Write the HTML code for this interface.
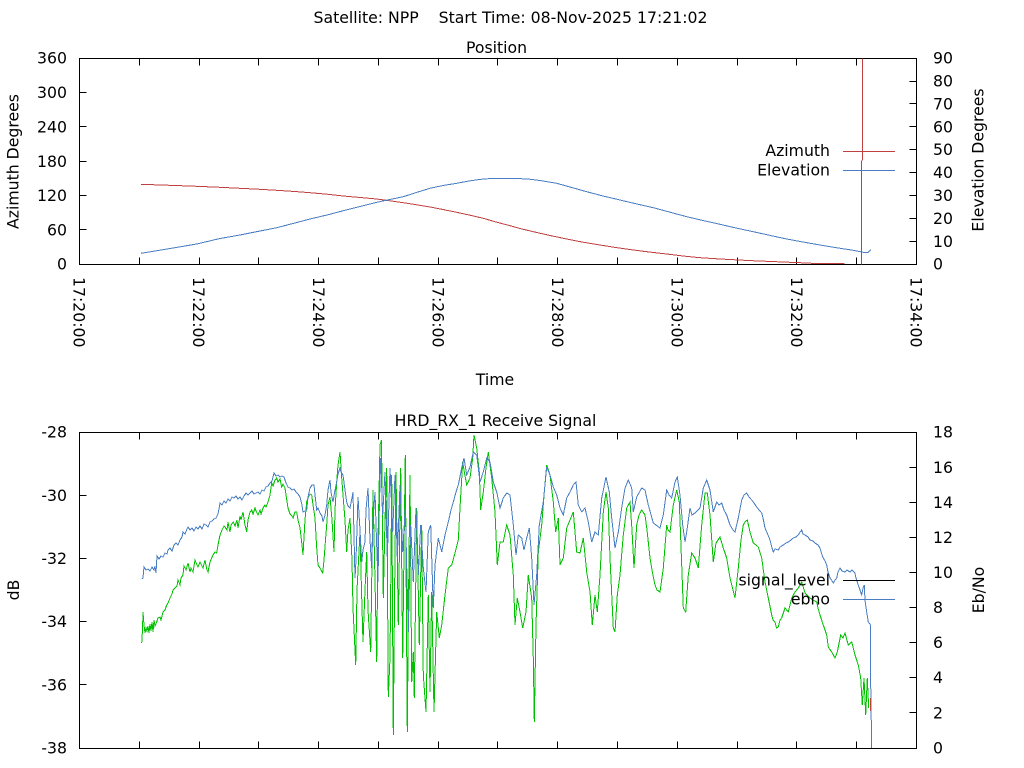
<!DOCTYPE html>
<html>
<head>
<meta charset="utf-8">
<style>
html,body{margin:0;padding:0;background:#fff;}
svg{display:block;}
text{font-family:"DejaVu Sans","Liberation Sans",sans-serif;font-size:15.7px;fill:#000;}
</style>
</head>
<body>
<svg width="1024" height="768" viewBox="0 0 1024 768" xmlns="http://www.w3.org/2000/svg">
<rect width="1024" height="768" fill="#fff"/>

<!-- Titles -->
<text x="510.5" y="23" text-anchor="middle" xml:space="preserve" style="white-space:pre">Satellite: NPP    Start Time: 08-Nov-2025 17:21:02</text>
<text x="496.5" y="53" text-anchor="middle">Position</text>
<text x="495.5" y="426" text-anchor="middle">HRD_RX_1 Receive Signal</text>
<text x="495" y="385" text-anchor="middle">Time</text>

<!-- Axis labels -->
<text transform="translate(18.5,161.5) rotate(-90)" text-anchor="middle">Azimuth Degrees</text>
<text transform="translate(983.5,160) rotate(-90)" text-anchor="middle">Elevation Degrees</text>
<text transform="translate(19,590) rotate(-90)" text-anchor="middle">dB</text>
<text transform="translate(984,590) rotate(-90)" text-anchor="middle">Eb/No</text>

<g shape-rendering="crispEdges" stroke="#000" stroke-width="1" fill="none">
<!-- Top frame -->
<rect x="79.5" y="58.5" width="837" height="206"/>
<!-- Bottom frame -->
<rect x="79.5" y="432.5" width="837" height="316"/>
<!-- X ticks top plot -->
<path d="M139.5 264.5V257.5M199.5 264.5V257.5M258.5 264.5V257.5M318.5 264.5V257.5M378.5 264.5V257.5M438.5 264.5V257.5M497.5 264.5V257.5M557.5 264.5V257.5M617.5 264.5V257.5M677.5 264.5V257.5M737.5 264.5V257.5M796.5 264.5V257.5M856.5 264.5V257.5
M139.5 58.5V65.5M199.5 58.5V65.5M258.5 58.5V65.5M318.5 58.5V65.5M378.5 58.5V65.5M438.5 58.5V65.5M497.5 58.5V65.5M557.5 58.5V65.5M617.5 58.5V65.5M677.5 58.5V65.5M737.5 58.5V65.5M796.5 58.5V65.5M856.5 58.5V65.5"/>
<!-- X ticks bottom plot -->
<path d="M139.5 748.5V741.5M199.5 748.5V741.5M258.5 748.5V741.5M318.5 748.5V741.5M378.5 748.5V741.5M438.5 748.5V741.5M497.5 748.5V741.5M557.5 748.5V741.5M617.5 748.5V741.5M677.5 748.5V741.5M737.5 748.5V741.5M796.5 748.5V741.5M856.5 748.5V741.5
M139.5 432.5V439.5M199.5 432.5V439.5M258.5 432.5V439.5M318.5 432.5V439.5M378.5 432.5V439.5M438.5 432.5V439.5M497.5 432.5V439.5M557.5 432.5V439.5M617.5 432.5V439.5M677.5 432.5V439.5M737.5 432.5V439.5M796.5 432.5V439.5M856.5 432.5V439.5"/>
<!-- Y ticks top left -->
<path d="M79.5 229.5H86.5M79.5 195.5H86.5M79.5 161.5H86.5M79.5 126.5H86.5M79.5 92.5H86.5"/>
<!-- Y2 ticks top right -->
<path d="M916.5 241.5H909.5M916.5 218.5H909.5M916.5 195.5H909.5M916.5 172.5H909.5M916.5 149.5H909.5M916.5 126.5H909.5M916.5 103.5H909.5M916.5 81.5H909.5"/>
<!-- Y ticks bottom left -->
<path d="M79.5 684.5H86.5M79.5 621.5H86.5M79.5 558.5H86.5M79.5 495.5H86.5"/>
<!-- Y2 ticks bottom right -->
<path d="M916.5 712.5H909.5M916.5 677.5H909.5M916.5 642.5H909.5M916.5 607.5H909.5M916.5 572.5H909.5M916.5 537.5H909.5M916.5 502.5H909.5M916.5 467.5H909.5"/>
</g>

<!-- Top left tick labels -->
<g text-anchor="end">
<text x="67" y="63.5">360</text>
<text x="67" y="98">300</text>
<text x="67" y="132.5">240</text>
<text x="67" y="167">180</text>
<text x="67" y="201">120</text>
<text x="67" y="235.5">60</text>
<text x="67" y="269.5">0</text>
</g>
<!-- Top right tick labels -->
<g>
<text x="933" y="63.5">90</text>
<text x="933" y="86.5">80</text>
<text x="933" y="109.5">70</text>
<text x="933" y="132.5">60</text>
<text x="933" y="155">50</text>
<text x="933" y="178">40</text>
<text x="933" y="201">30</text>
<text x="933" y="224">20</text>
<text x="933" y="247">10</text>
<text x="933" y="269.5">0</text>
</g>
<!-- Bottom left tick labels -->
<g text-anchor="end">
<text x="67" y="437.5">-28</text>
<text x="67" y="501">-30</text>
<text x="67" y="564">-32</text>
<text x="67" y="627">-34</text>
<text x="67" y="690.5">-36</text>
<text x="67" y="753.5">-38</text>
</g>
<!-- Bottom right tick labels -->
<g>
<text x="933" y="437.5">18</text>
<text x="933" y="473">16</text>
<text x="933" y="508">14</text>
<text x="933" y="543">12</text>
<text x="933" y="578">10</text>
<text x="933" y="613">8</text>
<text x="933" y="648">6</text>
<text x="933" y="683">4</text>
<text x="933" y="718.5">2</text>
<text x="933" y="753.5">0</text>
</g>

<!-- X tick labels rotated -->
<g>
<text transform="translate(73.5,277) rotate(90)">17:20:00</text>
<text transform="translate(193.2,277) rotate(90)">17:22:00</text>
<text transform="translate(312.8,277) rotate(90)">17:24:00</text>
<text transform="translate(432.3,277) rotate(90)">17:26:00</text>
<text transform="translate(551.9,277) rotate(90)">17:28:00</text>
<text transform="translate(671.5,277) rotate(90)">17:30:00</text>
<text transform="translate(791,277) rotate(90)">17:32:00</text>
<text transform="translate(910.5,277) rotate(90)">17:34:00</text>
</g>

<!-- Top plot data -->
<g fill="none" stroke-width="1" shape-rendering="crispEdges">
<polyline stroke="#c04040" points="141,184.3 170,185.3 196.7,186.3 220,187.3 240,188.3 260,189.3 276.7,190.3 295,191.5 310,192.7 327,194.2 343.3,196 360,197.5 376.7,199 390,200.8 403.3,202.7 417,204.8 430,207 443,209.5 456.7,212.3 470,215.2 483.3,218.3 496,222 510,225.7 520,228.5 533.3,231.7 550,235.5 566.7,239 583,242.2 600,245 617,247.7 633.3,250 650,252.1 666.7,254 683,256 700,257.7 717,258.8 733.3,259.7 750,260.6 766.7,261.3 783,262 800,262.7 820,263.7 844.3,263.7"/>
<path stroke="#c04040" d="M861.5 264.5V160.5M862.5 160.5V58.5"/>
<polyline stroke="#4a7ec2" points="141,253.3 170,248.5 196.7,244 220,238.5 240,235 260,231 276.7,227.7 295,223 310,219 327,215 343.3,210.7 360,206.5 376.7,202.3 390,199.5 403.3,196.7 417,192.3 430,188.3 443,185.5 456.7,183.3 470,180.8 483.3,179 496,178.3 510,178.3 528.3,179 542,180.8 556.7,183.3 571,187.3 586.7,191.7 603,196 620,200 636,203.8 653.3,207.7 670,212.2 686.7,216.7 703,220.5 720,224.3 736,228 753.3,231.7 770,235.4 786.7,239 803,242 820,245 837,247.8 853.3,250.3 863.3,252.3 868.3,252.3 870.7,249.7"/>
<!-- Top legend -->
<path stroke="#c04040" d="M843 151.5H895"/>
<path stroke="#4a7ec2" d="M843 170.5H895"/>
</g>
<text x="830" y="156" text-anchor="end">Azimuth</text>
<text x="830" y="175.5" text-anchor="end">Elevation</text>

<!-- Bottom plot data -->
<g fill="none" stroke-width="1" shape-rendering="crispEdges">
<polyline stroke="#00c000" points="141.7,643 142.5,630 143,612 144,625 145,633 146,628 147,631 148,626 149,633 150,624 151,631 152,622 153,632 154,620 155,626 156.7,622 158,618 160,617 161,620 163,612 165,610 166.7,605 168,603 170,598 172,594 173,590 175,588 177,586 178,580 180,585 181,578 183,575 184,566 186,570 188,563 190,572 191,568 193,572 195,560 197,565 198,567 200,562 202,566 203,568 205,560 207,570 208,572 210,562 211.7,558 213,555 215,552 216.7,553 218,545 219,540 220,535 222,530 224,526 225,527 227,530 228,522 230,532 231,525 233.3,522 235,526 237,520 238,528 240,516 241,520 243,512 245,525 246.7,532 248,520 250,512 251.7,510 253,514 255,508 256,511 258,515 260,510 261,514 263,508 265,505 266,507 268,502 270,495 271.7,483 273,486 275,480 276.7,478 278,482 280,479 281.7,487 283,484 285,488 286.5,498 288,508 290,514 292,516 293,518 295,512 296.7,512 298,520 300,528 302,545 303,555 305,520 306.7,502 308,498 310,494 311.7,495 313,505 315,518 316.5,545 318,565 320,568 322.7,573 324,560 325.5,540 326.7,525 328,505 330,497 332,520 334,552 335,510 336.7,482 338,465 340,452 341.5,475 343,495 345,520 346.7,552 348,530 350,518 352,560 353,608 355.7,665 357,590 360,532 361.5,590 363,642 365,590 366.7,552 368,610 370.7,652 372,560 373,490 375,580 376.7,662 378,540 380,445 381.5,440 383.3,598 385,520 386.7,468 388.3,697 390,658 391,560 391.7,475 393.3,735 394.5,600 396,472 398.3,625 400.7,468 402.7,658 404,550 405.3,455 407.3,732 408.5,600 410,475 411.7,682 413.3,652 414.3,698 416.7,508 419.3,645 421.7,525 423.3,675 426,712 428.3,595 430,692 431.7,592 434,712 436.7,612 439.3,638 441.7,625 445,595 448.3,568 451.7,565 455,553 458.3,540 460,508 462.7,462 464,470 466.7,485 470,478 472.7,458 474,435 476.7,448 479.3,472 480.7,510 483.3,492 486,468 488.3,452 491.7,478 495,512 497.3,565 500,542 503.3,542 506.7,525 510,535 513.3,575 515,625 517.3,598 520,612 522.7,628 526,612 528.3,575 531.7,598 533.3,658 534.3,722 536,625 538.3,552 541.7,525 544.3,492 546.7,465 550,475 553.3,502 555.7,532 558.3,518 560,565 563.3,558 566.7,528 570,520 573.3,512 576.7,552 580,553 583.3,538 586.7,572 590,592 592.3,625 595,595 597.3,612 600,575 603.3,512 606,492 608.3,508 610,558 613.3,628 615,632 617.3,595 620,575 623.3,535 626.7,508 630,502 632,530 634,568 636.7,525 639,515 641.7,510 645,515 647,530 650,558 652,570 655,585 657,590 660,592 663.3,568 666.7,525 668,530 670,532 673.3,505 676.7,490 679.3,502 681.7,565 683.3,608 685.7,612 688.3,575 691.7,553 695,558 698.3,568 701.7,525 705,493 707.3,493 710,515 713.3,562 716,543 720,537 723.3,548 726.7,558 730,578 733,590 735,598 738.3,568 741,540 743.3,525 745,522 747.3,520 750,532 753.3,543 756,545 758.3,547 761.7,558 765,582 768.3,598 771.7,615 773,620 775,622 776.5,628 778.3,627 780,620 781.7,618 785,608 788.3,612 791.7,598 795,592 798.3,588 801.7,582 805,593 808,596 810,598 813,600 816.7,602 818,608 820,615 823.3,625 826.7,635 828.3,647 831.7,652 835,658 837.3,652 840.7,635 843,638 845,633 848.3,645 851.7,642 855,655 858.3,665 860.7,678 862.3,705 864,678 865.7,715 867.3,678 868.7,708"/>
<polyline stroke="#4a7ec2" points="141.7,579 143,578 144,567 146,570 148,569 150,571 152,567 154,570 155,566 156,573 157,556 159,559 161,556 163,557 165,553 167,554 168,550 170,548 172,551 174,545 176,543 178,545 180,540 182,537 183,532 185,534 187,529 188,527 190,530 192,528 194,531 196,527 198,529 200,526 202,529 204,524 206,525 208,527 210,522 212,521 214,519 216,518 218,514 219,509 220,503 222,505 224,501 226,503 228,499 230,501 232,497 234,498 236,496 238,499 240,497 242,500 244,496 246,493 248,495 250,493 252,491 254,494 256,493 258,492 260,494 262,490 264,491 266,487 268,486 270,483 272,481 273,477 274,473 276,476 278,475 280,477 282,476 284,477 286,483 288,487 290,488 292,490 294,489 296,492 298,494 300,497 302,505 303,512 305,511 306.7,510 308,497 310,488 312,485 314,485 315,495 316.7,510 318,508 320,513 322,516 323,522 325,515 326.7,505 328,490 330,480 331,492 333,502 335,490 336.7,482 338,474 340,468 341,472 343,475 345,490 346.7,502 348,506 350,508 352,498 353,492 355,578 356,560 358,497 360,530 361.7,562 363,550 365,542 366,510 368,488 370,540 371.7,568 373,520 375,492 376.5,540 378,582 379,520 380.7,458 382.7,515 385,472 387.3,558 390,468 392.7,532 395,475 397.3,558 400,485 402.7,552 405.3,508 408.3,632 410.7,525 413.3,582 416,508 418.3,575 420.7,525 423.3,568 426,592 428.3,532 430.7,525 433.3,608 435,565 438.3,538 441.7,552 445,535 448.3,522 451,510 453.3,502 456,492 458.3,485 461.7,468 464,458 466.7,475 470,467 473.3,452 476.7,455 480,482 483.3,472 486.7,458 490,462 493.3,482 496.7,492 500,508 503.3,498 506.7,493 510,495 513.3,525 516,555 518.3,535 521.7,538 524,550 526.7,538 529.3,528 531.7,558 534,605 536.7,575 539.3,525 543.3,502 546.7,467 550,475 553.3,487 556.7,495 560,508 563.3,515 566.7,498 570,492 573.3,485 576,482 578.3,505 581.7,512 585,508 588.3,522 591.7,542 595,532 598.3,535 601.7,498 606,477 609.3,492 611.7,518 615,548 618.3,532 621.7,508 625,488 628.3,480 631.7,488 633.3,512 636.7,497 641.7,488 645,490 648.3,505 653.3,523 656,525 660,528 663.3,515 666.7,490 669,495 671.7,498 675,482 677.3,477 680,495 682.7,525 685,542 687,530 690,508 692,515 695,513 698,510 700,508 703.3,488 706.7,480 710,490 713.3,512 716.7,502 719,505 721.7,503 724,510 726.7,515 730,525 733,530 735,532 738.3,518 741.7,500 744,495 746.7,493 749,497 751.7,500 754,503 756.7,507 759,510 761.7,513 763,518 765,528 768,535 770,540 772,548 773.3,552 775,549 778.3,550 780,547 783.3,545 786,543 788.3,542 791,540 793.3,538 796,537 798.3,535 800,532 801.7,530 803,534 805,535 808,537 810,540 813,541 815,543 818,545 820,548 822,555 823.3,558 825,561 826.7,565 828,572 830,578 831.5,580 833.3,583 835,580 836.7,578 838,572 840,568 842,571 845,572 847,570 850,572 852,570 855,573 856,578 858.3,585 860,590 861.7,595 863,588 864.3,585 865,600 866.7,612 868.3,622 870.7,625 870.7,685 871.7,748"/>
<path stroke="#c04040" d="M870.5 698V711"/>
<!-- Bottom legend -->
<path stroke="#000" d="M843 580.5H895"/>
<path stroke="#4a7ec2" d="M843 599.5H895"/>
</g>
<text x="830" y="585.5" text-anchor="end">signal_level</text>
<text x="830" y="604.5" text-anchor="end">ebno</text>
</svg>
</body>
</html>
